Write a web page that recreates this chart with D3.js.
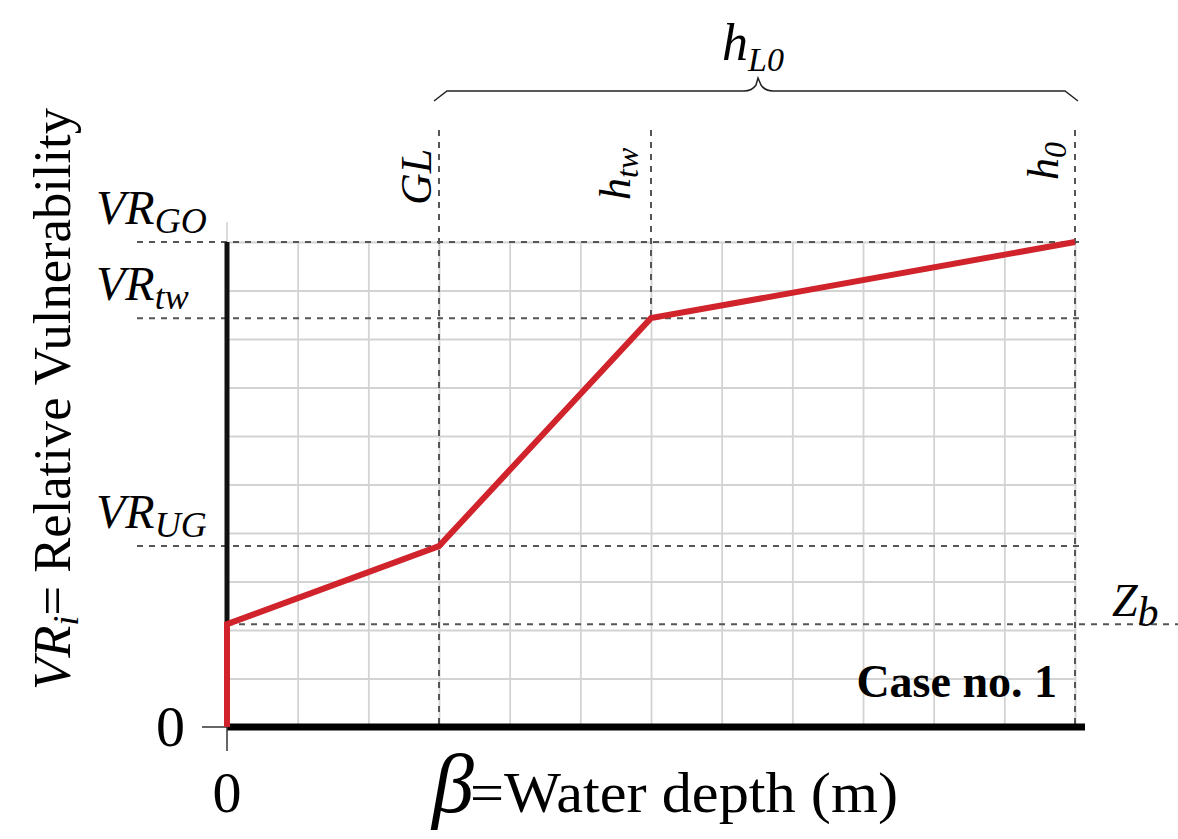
<!DOCTYPE html>
<html>
<head>
<meta charset="utf-8">
<script src="https://cdn.jsdelivr.net/npm/d3@7"></script>
<style>
  body { margin: 0; background: #fff; }
  svg text { font-family: "Liberation Serif", "Times New Roman", serif; fill: #000; }
</style>
</head>
<body>
<div id="chart"></div>
<script>
// water depth in grid units and the matching relative vulnerability
var depth = [0, 0, 3, 6, 12];
var vuln = [0, 2.12, 3.73, 8.43, 10];

// named levels on the y side
var levelNames = ["Z", "VR", "VR", "VR"];
var levelSubs = ["b", "UG", "tw", "GO"];
var levelValues = [2.12, 3.73, 8.43, 10];

// named depths on the x side
var depthNames = ["GL", "h", "h"];
var depthSubs = ["", "tw", "0"];
var depthValues = [3, 6, 12];

var gridX = d3.range(1, 13);
var gridY = d3.range(1, 11);

var W = 1178, H = 839;
var svg = d3.select("#chart").append("svg")
  .attr("width", W)
  .attr("height", H);

var x = d3.scaleLinear().domain([0, 12]).range([227, 1075]);
var y = d3.scaleLinear().domain([0, 10]).range([727, 242]);

// light grid
svg.append("g")
  .attr("transform", "translate(0," + y(0) + ")")
  .call(d3.axisBottom(x).tickValues(gridX).tickSize(-(y(0) - y(10))).tickFormat(""))
  .call(function (g) { g.select(".domain").remove(); })
  .selectAll("line")
  .attr("stroke", "#d3d3d3")
  .attr("stroke-width", 1.8);

svg.append("g")
  .attr("transform", "translate(" + x(0) + ",0)")
  .call(d3.axisLeft(y).tickValues(gridY).tickSize(-(x(12) - x(0))).tickFormat(""))
  .call(function (g) { g.select(".domain").remove(); })
  .selectAll("line")
  .attr("stroke", "#d3d3d3")
  .attr("stroke-width", 1.8);

// small grey stub above the y axis
svg.append("line")
  .attr("x1", x(0)).attr("x2", x(0))
  .attr("y1", y(10) - 20).attr("y2", y(10))
  .attr("stroke", "#d3d3d3").attr("stroke-width", 1.6);

// dashed guide lines
var dash = "6,6";
var dashColor = "#555";

levelValues.forEach(function (v, i) {
  var isZb = levelNames[i] == "Z";
  svg.append("line")
    .attr("x1", isZb ? x(0) : 137)
    .attr("x2", isZb ? W : x(12) + 4)
    .attr("y1", y(v)).attr("y2", y(v))
    .attr("stroke", dashColor)
    .attr("stroke-width", 2)
    .attr("stroke-dasharray", dash);
});

depthValues.forEach(function (v, i) {
  var bottom = depthSubs[i] == "tw" ? y(vuln[3]) : y(0);
  svg.append("line")
    .attr("x1", x(v)).attr("x2", x(v))
    .attr("y1", 130).attr("y2", bottom)
    .attr("stroke", dashColor)
    .attr("stroke-width", 2)
    .attr("stroke-dasharray", dash);
});

// axes
svg.append("line")
  .attr("x1", x(0)).attr("x2", x(0))
  .attr("y1", y(10)).attr("y2", y(0))
  .attr("stroke", "#111").attr("stroke-width", 5);

svg.append("line")
  .attr("x1", x(0)).attr("x2", x(12) + 10)
  .attr("y1", y(0)).attr("y2", y(0))
  .attr("stroke", "#000").attr("stroke-width", 7);

// origin ticks
svg.append("line")
  .attr("x1", x(0) - 25).attr("x2", x(0))
  .attr("y1", y(0)).attr("y2", y(0))
  .attr("stroke", "#333").attr("stroke-width", 1.5);
svg.append("line")
  .attr("x1", x(0)).attr("x2", x(0))
  .attr("y1", y(0)).attr("y2", y(0) + 24)
  .attr("stroke", "#333").attr("stroke-width", 1.5);

// vulnerability curve
var line = d3.line()
  .x(function (d) { return x(d[0]); })
  .y(function (d) { return y(d[1]); });

svg.append("path")
  .datum(d3.zip(depth, vuln))
  .attr("d", line)
  .attr("fill", "none")
  .attr("stroke", "#d1232b")
  .attr("stroke-width", 6)
  .attr("stroke-linejoin", "miter");

// helper for italic label with subscript
function subLabel(g, main, sub, size, subSize, subShift) {
  var t = g.append("text").style("font-style", "italic").style("font-size", size + "px");
  t.append("tspan").text(main);
  if (sub) {
    t.append("tspan")
      .attr("dy", subShift)
      .style("font-size", subSize + "px")
      .text(sub);
  }
  return t;
}

// y side labels
levelValues.forEach(function (v, i) {
  if (levelNames[i] == "Z") {
    var gz = svg.append("g").attr("transform", "translate(1112," + (y(v) - 8) + ")");
    subLabel(gz, "Z", levelSubs[i], 46, 42, 10);
  } else {
    var g = svg.append("g").attr("transform", "translate(96," + (y(v) - 18) + ")");
    subLabel(g, levelNames[i], levelSubs[i], 48, 36, 9);
  }
});

// x side labels, rotated
var depthLabelPos = [[431, 205], [630, 200], [1058, 180]];
depthValues.forEach(function (v, i) {
  var g = svg.append("g")
    .attr("transform", "translate(" + depthLabelPos[i][0] + "," + depthLabelPos[i][1] + ") rotate(-90)");
  subLabel(g, depthNames[i], depthSubs[i], 44, 32, 8);
});

// zeros
svg.append("text")
  .attr("x", 185).attr("y", 746)
  .attr("text-anchor", "end")
  .style("font-size", "58px")
  .text("0");
svg.append("text")
  .attr("x", x(0)).attr("y", 812)
  .attr("text-anchor", "middle")
  .style("font-size", "58px")
  .text("0");

// brace over GL .. h0
var brace = d3.path();
brace.moveTo(x(3) - 5, 101);
brace.lineTo(x(3) + 8, 91);
brace.lineTo(744, 91);
brace.quadraticCurveTo(752, 91, 756, 85);
brace.lineTo(758, 78);
brace.lineTo(761, 85);
brace.quadraticCurveTo(765, 91, 773, 91);
brace.lineTo(x(12) - 10, 91);
brace.lineTo(x(12) + 3, 101);
svg.append("path")
  .attr("d", brace.toString())
  .attr("fill", "none")
  .attr("stroke", "#222")
  .attr("stroke-width", 1.5);

var gh = svg.append("g").attr("transform", "translate(722,60)");
subLabel(gh, "h", "L0", 52, 34, 11);

// axis titles
var yt = svg.append("text")
  .attr("transform", "translate(70,690) rotate(-90)")
  .style("font-size", "52px")
  .attr("textLength", 582)
  .attr("lengthAdjust", "spacingAndGlyphs");
yt.append("tspan").style("font-style", "italic").text("VR");
yt.append("tspan").style("font-style", "italic").style("font-size", "36px").attr("dy", 8).text("i");
yt.append("tspan").attr("dy", -8).text("= Relative Vulnerability");

svg.append("text")
  .attr("x", 432).attr("y", 812)
  .style("font-size", "84px")
  .style("font-style", "italic")
  .text("\u03B2");
svg.append("text")
  .attr("x", 470).attr("y", 812)
  .style("font-size", "56px")
  .attr("textLength", 428)
  .attr("lengthAdjust", "spacingAndGlyphs")
  .text("=Water depth (m)");

svg.append("text")
  .attr("x", 1057).attr("y", 697)
  .attr("text-anchor", "end")
  .style("font-size", "46px")
  .style("font-weight", "bold")
  .text("Case no. 1");
</script>
</body>
</html>
